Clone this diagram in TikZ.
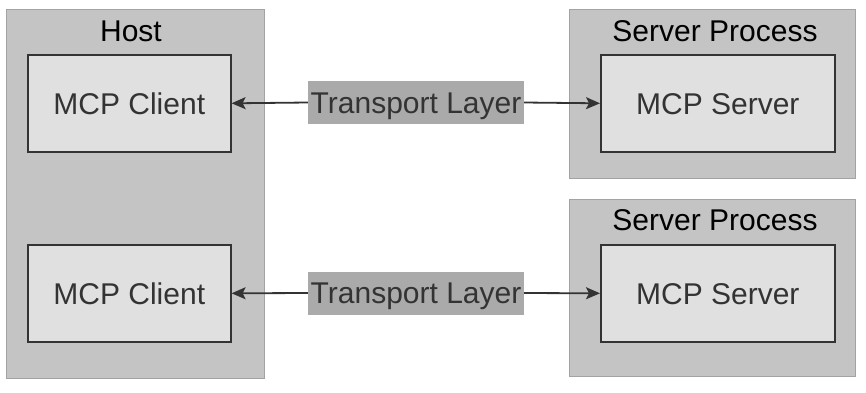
\documentclass[tikz,border=0pt]{standalone}
\usepackage{fontspec}
\setmainfont{Liberation Sans}
\usetikzlibrary{arrows.meta}
\definecolor{outerfill}{HTML}{C4C4C4}
\definecolor{outerline}{HTML}{A3A3A3}
\definecolor{innerfill}{HTML}{E0E0E0}
\definecolor{innerline}{HTML}{333333}
\definecolor{labfill}{HTML}{AAAAAA}
\definecolor{txt}{HTML}{333333}
\begin{document}
\begin{tikzpicture}[x=1pt,y=-1pt,
  bigfont/.style={font=\fontsize{30}{34}\selectfont},
  container/.style={draw=outerline,fill=outerfill,line width=1.4pt,anchor=north west,inner sep=0pt},
  comp/.style={draw=innerline,fill=innerfill,line width=1.6pt,anchor=north west,inner sep=0pt,
     minimum height=97pt},
  comptext/.style={bigfont,text=txt,inner sep=0pt,text height=21.5pt,text depth=0pt},
  title/.style={bigfont,text=black,inner sep=0pt,text height=21.5pt,text depth=0pt},
  translabel/.style={fill=labfill,text=txt,bigfont,inner sep=0pt,
     minimum width=216pt,minimum height=43pt,text height=21.5pt,text depth=0pt},
  arr/.style={draw=innerline,line width=1.8pt,-{Stealth[length=14pt,width=12pt,inset=3pt]}}]
\useasboundingbox (0,0) rectangle (866,392);
% Host
\node[container,minimum width=258pt,minimum height=369pt] (host) at (6,9) {};
\node[title] (hosttitle) at (131,31) {Host};
\node[comp,minimum width=203pt] (c1) at (27,54) {};
\node[comptext] (c1t) at (c1.center) {MCP Client};
\node[comp,minimum width=203pt] (c2) at (27,244) {};
\node[comptext] (c2t) at (c2.center) {MCP Client};
% Server processes
\node[container,minimum width=286pt,minimum height=169pt] (sp1) at (569,9) {};
\node[title] (sp1title) at (715,31) {Server Process};
\node[comp,minimum width=234pt] (s1) at (600,54) {};
\node[comptext] (s1t) at (s1.center) {MCP Server};
\node[container,minimum width=286pt,minimum height=177pt] (sp2) at (569,199) {};
\node[title] (sp2title) at (715,220) {Server Process};
\node[comp,minimum width=234pt] (s2) at (600,244) {};
\node[comptext] (s2t) at (s2.center) {MCP Server};
% Transport labels and arrows
\node[translabel] (t1) at (416,102.5) {Transport Layer};
\node[translabel] (t2) at (416,293) {Transport Layer};
\draw[arr] (t1.west) -- (c1.east);
\draw[arr] (t1.east) -- (s1.west);
\draw[arr] (t2.west) -- (c2.east);
\draw[arr] (t2.east) -- (s2.west);
\end{tikzpicture}
\end{document}
